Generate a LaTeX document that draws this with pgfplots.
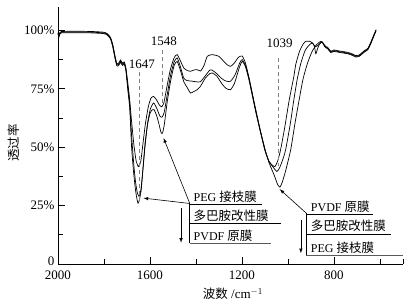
\documentclass[border=0pt]{standalone}
\usepackage{fontspec}
\setmainfont{Liberation Serif}
\newfontfamily\cjk{Noto Sans CJK SC}
\usepackage{pgfplots}
\usepackage{pgfplotstable}
\pgfplotsset{compat=1.18}

\pgfplotstableread{
x y
2000 99.0
1996 97.8
1992 99.1
1985 99.5
1950 99.6
1900 99.6
1850 99.5
1800 99.2
1785 98.5
1772 97
1762 94
1752 89
1744 85.8
1736 86
1728 87.3
1720 86
1712 86.5
1705 84
1697 78
1688 70
1680 61
1670 51
1660 44
1650 41.7
1640 44
1630 52
1620 60
1608 67
1596 71
1584 71.7
1572 70.3
1560 68.2
1550 67.3
1540 68.8
1528 75
1512 83
1495 88.3
1482 89.6
1468 87
1453 83.9
1438 82.8
1424 82.5
1410 83
1395 83.2
1380 82.6
1365 85
1351 88.9
1330 89.6
1301 88.9
1279 86.7
1265 85.3
1250 84.6
1235 85.8
1215 88.5
1199 89
1185 86
1170 80
1155 73
1140 66
1120 57
1100 49
1083 43.5
1060 38
1045 34
1035 32.9
1025 35
1010 40
988 49
970 60
952 70
935 79
915 86
895 91
875 94
857 95.3
850 95
842 93.5
835 92.8
828 92.5
814 90.8
800 91.3
784 91
760 90.6
741 90.3
720 89.6
705 88.9
690 89.2
668 91
653 92
640 94.6
628 97.5
617 100
}\peg

\pgfplotstableread{
x y
2000 98.7
1996 97.5
1992 98.8
1985 99.2
1950 99.3
1900 99.3
1850 99.2
1800 98.9
1785 98.2
1772 96.7
1762 93.5
1752 88.5
1744 85.3
1736 85.5
1728 86.8
1720 85.5
1712 86
1705 83.5
1697 76.5
1688 68
1680 55
1670 42
1662 34.5
1655 30.5
1648 29
1640 31.5
1632 39
1622 50
1610 60.5
1598 66.5
1584 68.9
1570 66.5
1558 63.5
1548 62.8
1538 65
1525 72.5
1510 81
1495 86.5
1482 88.2
1468 84.5
1453 79.5
1438 78.5
1420 78.3
1400 78
1381 78
1360 80.5
1340 83
1330 83
1310 81.5
1290 79.5
1270 78.3
1250 78.2
1230 81
1210 86
1199 87.5
1185 85
1170 79.5
1155 72.5
1140 65.5
1120 57
1100 49
1083 44
1065 41.5
1048 39.6
1035 41.5
1020 45.5
1010 49
990 60
975 70
960 79
944 86
925 91.5
905 94
893 94.6
885 93
879 90
872 92
865 93.8
855 95
848 94.5
842 93.2
835 92.5
828 92.2
814 90.5
800 91
784 90.7
760 90.3
741 90
720 89.3
705 88.6
690 88.9
668 90.7
653 91.7
640 94.3
628 97.2
617 99.8
}\dopa

\pgfplotstableread{
x y
2000 98.4
1996 97.2
1992 98.5
1985 98.9
1950 99.0
1900 99.0
1850 98.9
1800 98.6
1785 97.9
1772 96.4
1762 93
1752 88
1744 84.8
1736 85
1728 86.3
1720 85
1712 85.5
1705 83
1697 75
1688 66.5
1680 50
1672 40
1664 32.5
1658 28.5
1652 26
1646 27.5
1638 32
1630 41.5
1621 52
1611 59.5
1600 64.5
1590 66
1582 66
1570 63.2
1560 59.5
1552 56.3
1546 56
1538 59.5
1525 69.5
1510 78.5
1495 85
1482 86.7
1468 83
1453 78
1438 75.5
1424 73.2
1410 73.8
1395 74.6
1381 76
1360 79.5
1340 81.5
1330 81.8
1310 80.5
1290 77.5
1270 75.2
1250 74.6
1232 77.5
1212 84
1199 86.7
1185 84.5
1170 79
1155 72
1140 65
1120 56.5
1100 48.5
1083 44
1068 42.3
1057 41.7
1045 44
1032 49
1015 58
995 70
975 80
966 85.5
950 91
935 94
923 95.3
905 95.3
893 94.5
880 93
865 94
852 95
842 93.8
835 93
828 92.8
814 91.1
800 91.6
784 91.3
760 90.9
741 90.6
720 89.9
705 89.2
690 89.5
668 91.3
653 92.3
640 94.9
628 97.8
617 100.3
}\pvdf

\newcommand{\tfont}{\fontsize{13bp}{15bp}\selectfont}
\newcommand{\afont}{\fontsize{12bp}{14bp}\selectfont}
\newcommand{\zh}[1]{{\cjk\fontsize{12.5bp}{14bp}\selectfont #1}}

\begin{document}
\begin{tikzpicture}
\useasboundingbox (-58bp,-41bp) rectangle (351bp,264bp);
\begin{axis}[
  at={(0,0)}, anchor=south west,
  scale only axis, width=345bp, height=257bp,
  x dir=reverse, xmin=500, xmax=2000, ymin=0, ymax=110,
  axis x line=bottom, axis y line=left,
  axis line style={-, line width=0.7bp},
  xtick={2000,1600,1200,800},
  minor xtick={1800,1400,1000,600,500},
  ytick={25,50,75,100},
  yticklabels={25\%,50\%,75\%,100\%},
  extra y ticks={0},
  extra y tick labels={0},
  extra y tick style={yticklabel style={yshift=3bp}},
  minor ytick={12.5,37.5,62.5,87.5},
  tick align=inside,
  major tick length=7bp, minor tick length=5bp,
  tick style={line width=0.7bp, black},
  /pgf/number format/assume math mode=true,
  xticklabel style={font=\tfont, yshift=-3bp},
  yticklabel style={font=\tfont},
  x tick label style={/pgf/number format/1000 sep={}},
  xlabel={\zh{波数} /cm$^{-1}$},
  xlabel style={font=\tfont, at={(axis description cs:0.507,-0.117)}, anchor=center},
  ylabel={\zh{透过率}},
  ylabel style={font=\tfont, at={(axis description cs:-0.1275,0.471)}, anchor=center},
  clip=false,
]
\addplot[black, line width=0.7bp, smooth, tension=0.35] table[x=x,y=y] {\peg};
\addplot[black, line width=0.7bp, smooth, tension=0.35] table[x=x,y=y] {\dopa};
\addplot[black, line width=0.7bp, smooth, tension=0.35] table[x=x,y=y] {\pvdf};

% dashed marker lines
\draw[gray, line width=0.8bp, dash pattern=on 4bp off 3bp] (axis cs:1647,82) -- (axis cs:1647,27);
\draw[gray, line width=0.8bp, dash pattern=on 4bp off 3bp] (axis cs:1548,91.5) -- (axis cs:1548,67.5);
\draw[gray, line width=0.8bp, dash pattern=on 4bp off 3bp] (axis cs:1042,88) -- (axis cs:1042,42);
\node[font=\tfont] at (axis cs:1635,85.5) {1647};
\node[font=\tfont] at (axis cs:1540,95.5) {1548};
\node[font=\tfont] at (axis cs:1036,94.5) {1039};

% annotation 1
\draw[line width=0.6bp, -latex] (axis cs:1427,25.9) -- (axis cs:1628,28.2);
\draw[line width=0.6bp, -latex] (axis cs:1427,25.9) -- (axis cs:1541,53.9);
\draw[line width=0.6bp] (axis cs:1427,25.9) -- (axis cs:1427,8.9);
\draw[line width=0.6bp] (axis cs:1427,25.7) -- (axis cs:1111,25.7);
\draw[line width=0.6bp] (axis cs:1427,17.5) -- (axis cs:1032,17.5);
\draw[line width=0.6bp, gray!70!black] (axis cs:1427,8.9) -- (axis cs:1075,8.9);
\draw[line width=0.6bp, -latex] (axis cs:1465,23.9) -- (axis cs:1465,9.1);
\node[anchor=base west, inner sep=0, font=\afont] at (axis cs:1411,26.9) {PEG \zh{接枝膜}};
\node[anchor=base west, inner sep=0, font=\afont] at (axis cs:1411,18.8) {\zh{多巴胺改性膜}};
\node[anchor=base west, inner sep=0, font=\afont] at (axis cs:1411,10.2) {PVDF \zh{原膜}};

% annotation 2
\draw[line width=0.6bp, -latex] (axis cs:920,21.7) -- (axis cs:1036,32);
\draw[line width=0.6bp] (axis cs:920,21.7) -- (axis cs:920,3.9);
\draw[line width=0.6bp] (axis cs:920,21.3) -- (axis cs:632,21.3);
\draw[line width=0.6bp] (axis cs:920,12.9) -- (axis cs:552,12.9);
\draw[line width=0.6bp, gray!70!black] (axis cs:920,3.9) -- (axis cs:501,3.9);
\draw[line width=0.6bp, -latex] (axis cs:944,18.9) -- (axis cs:944,4.6);
\node[anchor=base west, inner sep=0, font=\afont] at (axis cs:901,22.5) {PVDF \zh{原膜}};
\node[anchor=base west, inner sep=0, font=\afont] at (axis cs:901,14.2) {\zh{多巴胺改性膜}};
\node[anchor=base west, inner sep=0, font=\afont] at (axis cs:901,5.1) {PEG \zh{接枝膜}};
\end{axis}
\end{tikzpicture}
\end{document}
